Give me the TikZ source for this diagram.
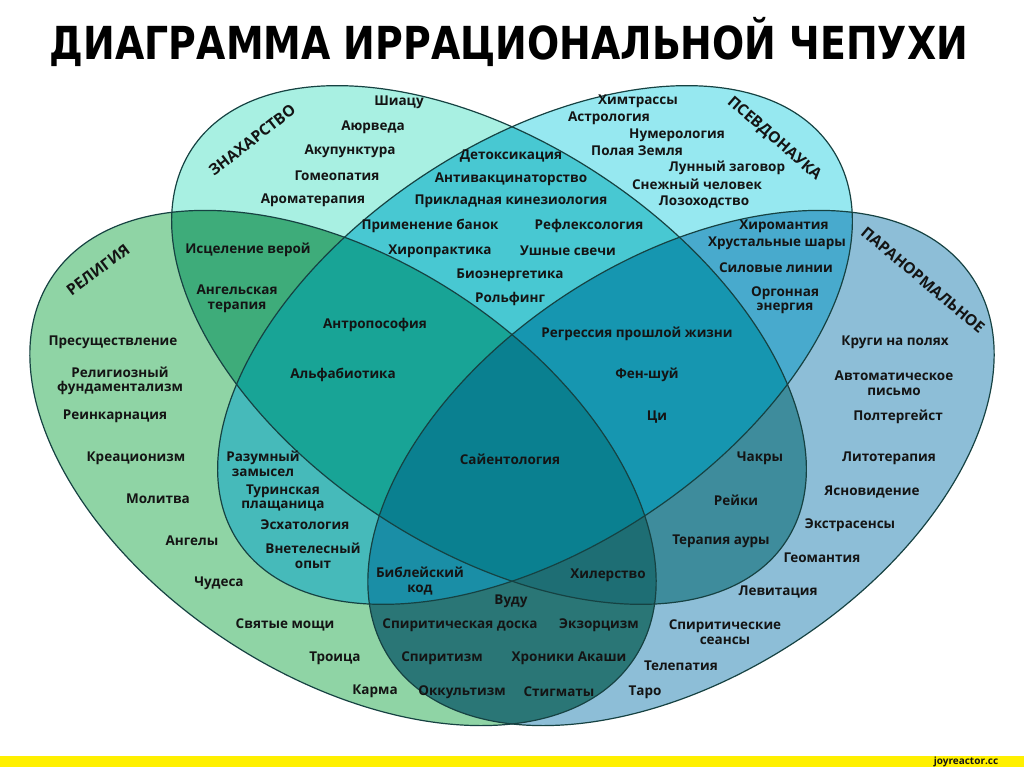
\documentclass[tikz,border=0pt]{standalone}
\usepackage{fontspec}
\setmainfont{Open Sans}
\newfontfamily\titlefont{DejaVu Sans}
\usepackage{graphicx}
\usepackage{xcolor}

% region colours
\definecolor{relOnly}{RGB}{143,212,165}
\definecolor{znaOnly}{RGB}{168,240,226}
\definecolor{pseOnly}{RGB}{150,232,240}
\definecolor{parOnly}{RGB}{141,190,215}
\definecolor{relZna}{RGB}{62,172,122}
\definecolor{relPse}{RGB}{70,186,186}
\definecolor{relPar}{RGB}{42,118,118}
\definecolor{znaPse}{RGB}{72,200,210}
\definecolor{znaPar}{RGB}{62,140,156}
\definecolor{psePar}{RGB}{72,170,205}
\definecolor{relZnaPse}{RGB}{24,164,150}
\definecolor{relZnaPar}{RGB}{30,110,116}
\definecolor{relPsePar}{RGB}{26,142,166}
\definecolor{znaPsePar}{RGB}{22,150,176}
\definecolor{allFour}{RGB}{10,128,144}
\definecolor{edge}{RGB}{22,66,66}
\definecolor{ink}{RGB}{20,20,20}
\definecolor{stripYellow}{HTML}{FFF000}

% the four sets
\newcommand{\ellRel}[1]{\path[#1,shift={(343,468)},rotate=-33] (0,0) ellipse (348 and 208);}
\newcommand{\ellZna}[1]{\path[#1,shift={(489,345)},rotate=-33.5] (0,0) ellipse (356 and 203);}
\newcommand{\ellPse}[1]{\path[#1,shift={(535,345)},rotate=33.5] (0,0) ellipse (356 and 203);}
\newcommand{\ellPar}[1]{\path[#1,shift={(681,468)},rotate=33] (0,0) ellipse (348 and 208);}

\begin{document}
\begin{tikzpicture}[x=1pt, y=-1pt,
		lbl/.style={font=\bfseries\fontsize{13.5}{14.5}\selectfont, text=ink, align=center, inner sep=0pt},
		setlbl/.style={font=\bfseries\fontsize{15.5}{16}\selectfont, text=ink, inner sep=0pt}]
	\useasboundingbox (0,0) rectangle (1024,767);
	\fill[white] (0,0) rectangle (1024,767);

	% Title
	\node (title) at (509,42) {\resizebox{918pt}{!}{\scalebox{1}[1.2]{\titlefont\bfseries ДИАГРАММА ИРРАЦИОНАЛЬНОЙ ЧЕПУХИ}}};

	% Single sets
	\ellRel{fill=relOnly}
	\ellZna{fill=znaOnly}
	\ellPse{fill=pseOnly}
	\ellPar{fill=parOnly}

	% Pairs
	\begin{scope}\ellRel{clip}\ellZna{fill=relZna}\end{scope}
	\begin{scope}\ellRel{clip}\ellPse{fill=relPse}\end{scope}
	\begin{scope}\ellRel{clip}\ellPar{fill=relPar}\end{scope}
	\begin{scope}\ellZna{clip}\ellPse{fill=znaPse}\end{scope}
	\begin{scope}\ellZna{clip}\ellPar{fill=znaPar}\end{scope}
	\begin{scope}\ellPse{clip}\ellPar{fill=psePar}\end{scope}

	% Triples
	\begin{scope}\ellRel{clip}\ellZna{clip}\ellPse{fill=relZnaPse}\end{scope}
	\begin{scope}\ellRel{clip}\ellZna{clip}\ellPar{fill=relZnaPar}\end{scope}
	\begin{scope}\ellRel{clip}\ellPse{clip}\ellPar{fill=relPsePar}\end{scope}
	\begin{scope}\ellZna{clip}\ellPse{clip}\ellPar{fill=znaPsePar}\end{scope}

	% All four
	\begin{scope}\ellRel{clip}\ellZna{clip}\ellPse{clip}\ellPar{fill=allFour}\end{scope}

	% Outlines
	\ellRel{draw=edge, line width=1.2}
	\ellZna{draw=edge, line width=1.2}
	\ellPse{draw=edge, line width=1.2}
	\ellPar{draw=edge, line width=1.2}

	% Set names
	\node[setlbl, rotate=38] (znaName) at (252,140) {ЗНАХАРСТВО};
	\node[setlbl, rotate=-41] (pseName) at (774,139) {ПСЕВДОНАУКА};
	\node[setlbl, rotate=37] (relName) at (98,270) {РЕЛИГИЯ};
	\node[setlbl, rotate=-40] (parName) at (923,280) {ПАРАНОРМАЛЬНОЕ};

	% Знахарство only
	\node[lbl] (shiatsu) at (399,102) {Шиацу};
	\node[lbl] (ayurveda) at (373,127) {Аюрведа};
	\node[lbl] (acupuncture) at (350,151) {Акупунктура};
	\node[lbl] (homeopathy) at (337,176) {Гомеопатия};
	\node[lbl] (aroma) at (313,200) {Ароматерапия};

	% Псевдонаука only
	\node[lbl] (chemtrails) at (638,101) {Химтрассы};
	\node[lbl] (astrology) at (609,118) {Астрология};
	\node[lbl] (numerology) at (677,135) {Нумерология};
	\node[lbl] (hollowearth) at (637,151) {Полая Земля};
	\node[lbl] (moonhoax) at (727,168) {Лунный заговор};
	\node[lbl] (bigfoot) at (697,184) {Снежный человек};
	\node[lbl] (dowsing) at (704,202) {Лозоходство};

	% Знахарство and Псевдонаука
	\node[lbl] (detox) at (511,156) {Детоксикация};
	\node[lbl] (antivax) at (511,179) {Антивакцинаторство};
	\node[lbl] (kinesio) at (511,201) {Прикладная кинезиология};
	\node[lbl] (cupping) at (430,226) {Применение банок};
	\node[lbl] (reflexo) at (589,226) {Рефлексология};
	\node[lbl] (chiro) at (440,251) {Хиропрактика};
	\node[lbl] (earcandle) at (568,251) {Ушные свечи};
	\node[lbl] (bioenergy) at (510,275) {Биоэнергетика};
	\node[lbl] (rolfing) at (510,299) {Рольфинг};

	% Религия and Знахарство
	\node[lbl] (faithheal) at (248,250) {Исцеление верой};
	\node[lbl] (angelther) at (237,299) {Ангельская\\терапия};

	% Религия only
	\node[lbl] (transubst) at (113,342) {Пресуществление};
	\node[lbl] (fundament) at (120,381) {Религиозный\\фундаментализм};
	\node[lbl] (reincarn) at (115,416) {Реинкарнация};
	\node[lbl] (creation) at (136,458) {Креационизм};
	\node[lbl] (prayer) at (158,499) {Молитва};
	\node[lbl] (angels) at (192,541) {Ангелы};
	\node[lbl] (miracles) at (219,583) {Чудеса};
	\node[lbl] (relics) at (285,625) {Святые мощи};
	\node[lbl] (trinity) at (335,658) {Троица};
	\node[lbl] (karma) at (375,691) {Карма};

	% Религия, Знахарство and Псевдонаука
	\node[lbl] (anthropo) at (375,325) {Антропософия};
	\node[lbl] (alphabio) at (343,375) {Альфабиотика};

	% Знахарство, Псевдонаука and Паранормальное
	\node[lbl] (regress) at (637,334) {Регрессия прошлой жизни};
	\node[lbl] (fengshui) at (647,375) {Фен-шуй};
	\node[lbl] (qi) at (657,417) {Ци};

	% All four
	\node[lbl] (sciento) at (510,459) {Сайентология};

	% Псевдонаука and Паранормальное
	\node[lbl] (palmistry) at (784,226) {Хиромантия};
	\node[lbl] (crystal) at (777,243) {Хрустальные шары};
	\node[lbl] (leylines) at (776,268) {Силовые линии};
	\node[lbl] (orgone) at (785,300) {Оргонная\\энергия};

	% Паранормальное only
	\node[lbl] (cropcirc) at (895,342) {Круги на полях};
	\node[lbl] (autowrite) at (894,383) {Автоматическое\\письмо};
	\node[lbl] (poltergeist) at (898,417) {Полтергейст};
	\node[lbl] (lithother) at (889,458) {Литотерапия};
	\node[lbl] (clairvoy) at (872,492) {Ясновидение};
	\node[lbl] (psychics) at (850,525) {Экстрасенсы};
	\node[lbl] (geomancy) at (822,558) {Геомантия};
	\node[lbl] (levitation) at (778,592) {Левитация};
	\node[lbl] (seances) at (725,632) {Спиритические\\сеансы};
	\node[lbl] (telepathy) at (681,666) {Телепатия};
	\node[lbl] (tarot) at (645,692) {Таро};

	% Религия and Псевдонаука
	\node[lbl] (intdesign) at (263,464) {Разумный\\замысел};
	\node[lbl] (shroud) at (283,498) {Туринская\\плащаница};
	\node[lbl] (eschato) at (305,525) {Эсхатология};
	\node[lbl] (oobe) at (313,556) {Внетелесный\\опыт};

	% Религия, Псевдонаука and Паранормальное
	\node[lbl] (biblecode) at (420,581) {Библейский\\код};

	% Религия, Знахарство and Паранормальное
	\node[lbl] (healing) at (608,575) {Хилерство};

	% Знахарство and Паранормальное
	\node[lbl] (chakras) at (760,458) {Чакры};
	\node[lbl] (reiki) at (736,500) {Рейки};
	\node[lbl] (aura) at (721,541) {Терапия ауры};

	% Религия and Паранормальное
	\node[lbl] (voodoo) at (511,601) {Вуду};
	\node[lbl] (ouija) at (460,625) {Спиритическая доска};
	\node[lbl] (exorcism) at (599,625) {Экзорцизм};
	\node[lbl] (spiritism) at (442,658) {Спиритизм};
	\node[lbl] (akashic) at (569,658) {Хроники Акаши};
	\node[lbl] (occult) at (462,692) {Оккультизм};
	\node[lbl] (stigmata) at (559,692) {Стигматы};

	% Source strip
	\fill[fill=stripYellow] (0,756) rectangle (1024,767);
	\node[font=\bfseries\fontsize{10}{10}\selectfont, text=ink, inner sep=0pt] (source) at (966,762) {joyreactor.cc};
\end{tikzpicture}
\end{document}
